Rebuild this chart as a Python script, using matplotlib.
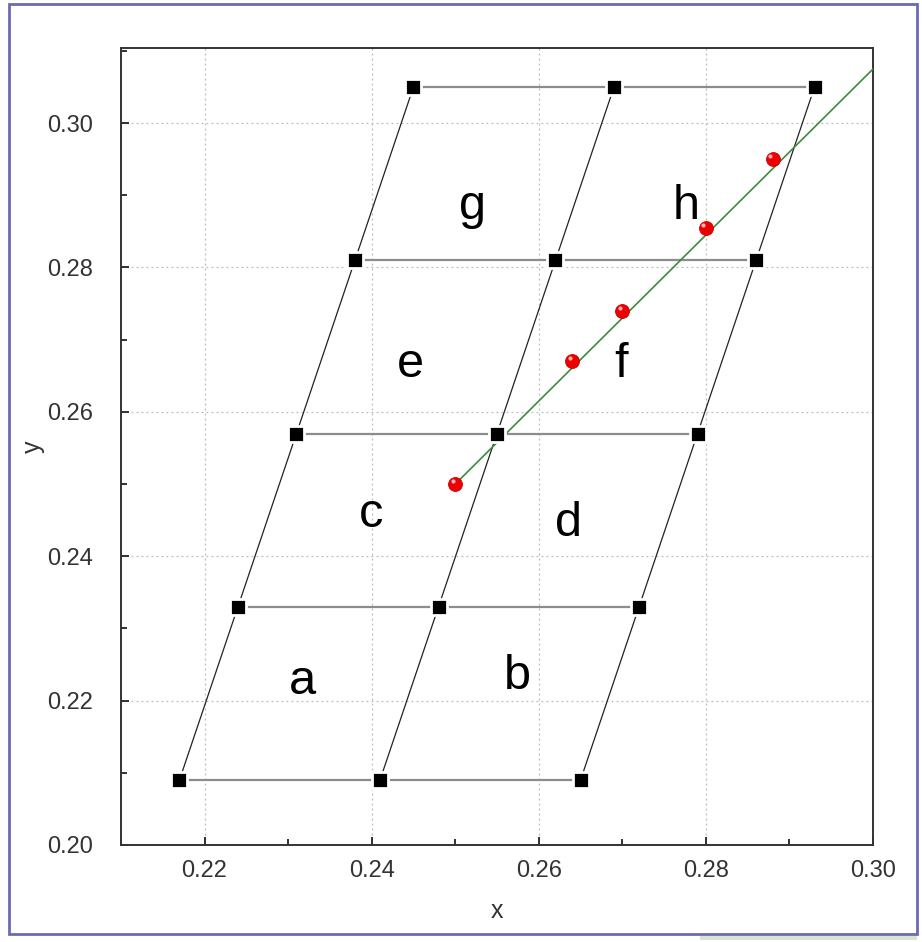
import matplotlib as mpl
import matplotlib.pyplot as plt
from matplotlib.patches import Rectangle
from matplotlib.ticker import MultipleLocator

mpl.rcParams['font.family'] = ['Liberation Sans', 'DejaVu Sans']

# grid nodes, one row per y level
row_y = [0.209, 0.233, 0.257, 0.281, 0.305]
node_x = [[0.217, 0.241, 0.265],
          [0.224, 0.248, 0.272],
          [0.231, 0.255, 0.279],
          [0.238, 0.262, 0.286],
          [0.245, 0.269, 0.293]]

# measured points and the line through them
pts_x = [0.250, 0.264, 0.270, 0.280, 0.288]
pts_y = [0.250, 0.267, 0.274, 0.2855, 0.295]
line_x = [0.250, 0.300]
line_y = [0.250, 0.3075]

# cell labels
lab_txt = ['a', 'b', 'c', 'd', 'e', 'f', 'g', 'h']
lab_x = [0.2317, 0.2574, 0.2399, 0.2636, 0.2447, 0.2698, 0.2521, 0.2776]
lab_y = [0.2226, 0.2233, 0.2458, 0.2446, 0.2665, 0.2665, 0.2885, 0.2885]

fig = plt.figure(figsize=(9.22, 9.42), dpi=100)
ax = fig.add_axes([0.1312, 0.1030, 0.8157, 0.8460])

# horizontal grey lines
for yy, xs in zip(row_y, node_x):
    ax.plot(xs, [yy] * len(xs), color='#8c8c8c', lw=1.6, zorder=2)
# slanted black lines (columns)
for j in range(3):
    ax.plot([r[j] for r in node_x], row_y, color='#222222', lw=0.9, zorder=2)
# square nodes, white rim makes the gap
for yy, xs in zip(row_y, node_x):
    ax.plot(xs, [yy] * len(xs), 's', color='black', ms=11,
            mec='white', mew=2.0, zorder=4)

ax.plot(line_x, line_y, color='#3c8c3c', lw=1.2, zorder=3)
ax.plot(pts_x, pts_y, 'o', color='#ee0000', ms=10, mec='#cc0000', mew=0.6, zorder=5)
ax.plot([x - 0.0003 for x in pts_x], [y + 0.0004 for y in pts_y], 'o',
        color='#ffb0b0', ms=3, mew=0, zorder=6)

for t, x, y in zip(lab_txt, lab_x, lab_y):
    ax.text(x, y, t, fontsize=35, ha='center', va='center', zorder=6)

ax.set_xlim(0.21, 0.30)
ax.set_ylim(0.20, 0.3104)
ax.xaxis.set_major_locator(MultipleLocator(0.02))
ax.xaxis.set_minor_locator(MultipleLocator(0.01))
ax.yaxis.set_major_locator(MultipleLocator(0.02))
ax.yaxis.set_minor_locator(MultipleLocator(0.01))
ax.xaxis.set_major_formatter(mpl.ticker.FormatStrFormatter('%.2f'))
ax.yaxis.set_major_formatter(mpl.ticker.FormatStrFormatter('%.2f'))
ax.tick_params(which='both', direction='in', top=False, right=False,
               width=1.3, color='#222222', labelsize=17, labelcolor='#333333')
ax.tick_params(which='major', length=6)
ax.tick_params(which='minor', length=4)
ax.tick_params(axis='y', pad=20)
ax.tick_params(axis='x', pad=11)
ax.grid(True, which='major', ls=(0, (1.5, 2.5)), color='#bbbbbb', lw=0.9)
for s in ax.spines.values():
    s.set_linewidth(1.4)
    s.set_color('#333333')

ax.set_xlabel('x', fontsize=18, color='#333333', labelpad=12)
ax.set_ylabel('y', fontsize=18, color='#333333', labelpad=2)

# outer frame
fig.patches.append(Rectangle((9 / 922, 1 - 934 / 942), 908 / 922, 930 / 942,
                             transform=fig.transFigure, fill=False,
                             edgecolor='#6a6ab4', lw=2))
fig.patches.append(Rectangle((700 / 922, 1 - 940 / 942), 217 / 922, 4 / 942,
                             transform=fig.transFigure, fill=True,
                             facecolor='#d8e6d0', edgecolor='none'))

fig.savefig('out.png', dpi=100)
